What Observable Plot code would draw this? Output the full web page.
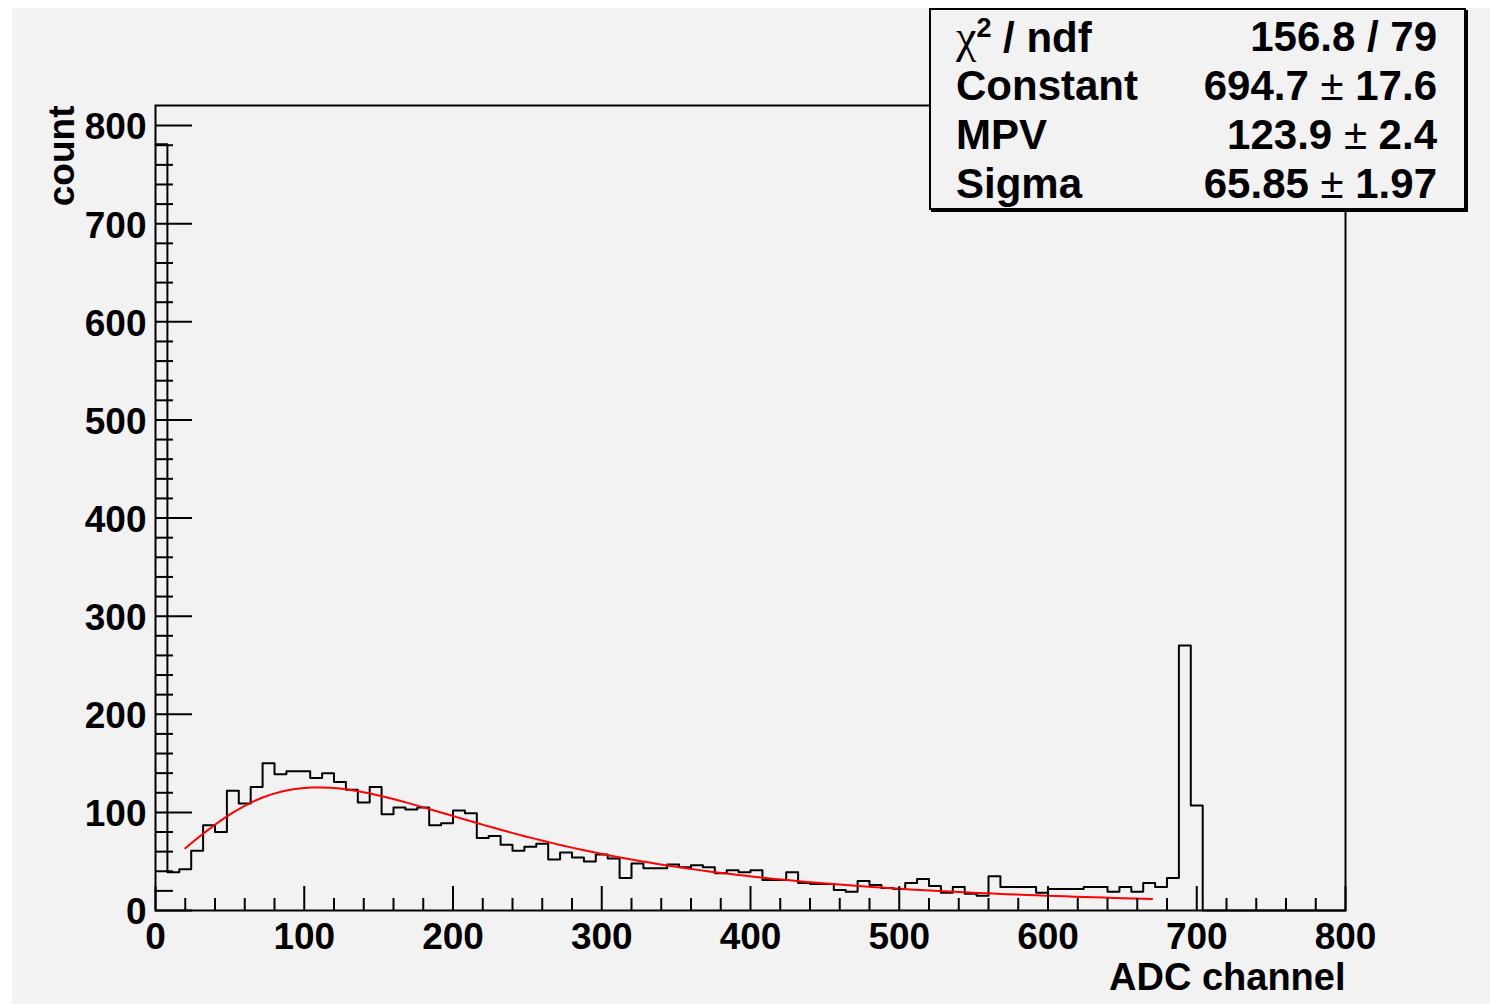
<!DOCTYPE html>
<html>
<head>
<meta charset="utf-8">
<script src="https://cdn.jsdelivr.net/npm/d3@7"></script>
<script src="https://cdn.jsdelivr.net/npm/@observablehq/plot@0.6"></script>
<style>
  html, body { margin: 0; padding: 0; background: #ffffff; }
  #pad { position: absolute; left: 12px; top: 8px; width: 1478px; height: 996px; background: #f2f2f2; }
  #chart { position: absolute; left: 0; top: 0; }
  #stats {
    position: absolute; left: 929px; top: 8px; width: 537px; height: 202px;
    box-sizing: border-box; border: 2px solid #000; box-shadow: 2px 2px 0 #000;
    background: #f2f2f2; padding: 2px 27px 0 25px;
    font-family: "Liberation Sans", Arial, sans-serif; font-weight: bold; font-size: 42px; color: #000;
  }
  #stats .row { display: flex; justify-content: space-between; height: 49px; line-height: 49px; white-space: nowrap; }
  #stats .chi { font-family: "Liberation Serif", serif; font-weight: normal; font-size: 46px; }
  #stats .sup { font-size: 27px; vertical-align: 0.55em; line-height: 0; }
  #stats .pm { font-weight: normal; }
</style>
</head>
<body>
<div id="pad"></div>
<div id="chart"></div>
<div id="stats"></div>
<script>
// ADC spectrum: 100 bins of width 8 over [0, 800]
const binWidth = 8;
const counts = [
  781, 39, 42, 61, 87, 80, 122, 109, 126, 150,
  139, 142, 142, 135, 140, 131, 123, 110, 126, 98,
  105, 103, 105, 87, 89, 102, 99, 74, 76, 67,
  61, 65, 68, 52, 59, 54, 50, 57, 53, 33,
  48, 43, 43, 47, 44, 46, 44, 38, 41, 39,
  41, 31, 31, 39, 28, 27, 27, 21, 19, 30,
  26, 23, 22, 28, 32, 25, 18, 24, 17, 15,
  35, 24, 24, 24, 18, 22, 22, 22, 24, 24,
  19, 24, 19, 28, 24, 33, 270, 107, 0, 0,
  0, 0, 0, 0, 0, 0, 0, 0, 0, 0
];

// Landau fit result
const fitNames  = ["Constant", "MPV", "Sigma"];
const fitValues = ["694.7", "123.9", "65.85"];
const fitErrors = ["17.6", "2.4", "1.97"];
const chi2 = "156.8", ndf = "79";
const fitRange = [20, 670];
const npx = 100;

// Axis ticks
const xTicks = [0, 100, 200, 300, 400, 500, 600, 700, 800];
const yTicks = [0, 100, 200, 300, 400, 500, 600, 700, 800];
const xDomain = [0, 800];
const yDomain = [0, 820.5];

// Landau density (CERNLIB DENLAN), unnormalised in sigma as in TMath::Landau
function denlan(v) {
  const p1 = [0.4259894875, -0.1249762550, 0.03984243700, -0.006298287635, 0.001511162253];
  const q1 = [1.0, -0.3388260629, 0.09594393323, -0.01608042283, 0.003778942063];
  const p2 = [0.1788541609, 0.1173957403, 0.01488850518, -0.001394989411, 0.0001283617211];
  const q2 = [1.0, 0.7428795082, 0.3153932961, 0.06694219548, 0.008790609714];
  const p3 = [0.1788544503, 0.09359161662, 0.006325387654, 0.00006611667319, -0.000002031049101];
  const q3 = [1.0, 0.6097809921, 0.2560616665, 0.04746722384, 0.006957301675];
  const p4 = [0.9874054407, 118.6723273, 849.2794360, -743.7792444, 427.0262186];
  const q4 = [1.0, 106.8615961, 337.6496214, 2016.712389, 1597.063511];
  const p5 = [1.003675074, 167.5702434, 4789.711289, 21217.86767, -22324.94910];
  const q5 = [1.0, 156.9424537, 3745.310488, 9834.698876, 66924.28357];
  const a1 = [0.04166666667, -0.01996527778, 0.02709538966];
  const poly = (c, t) => c[0] + (c[1] + (c[2] + (c[3] + c[4] * t) * t) * t) * t;
  let u;
  if (v < -5.5) {
    u = Math.exp(v + 1.0);
    if (u < 1e-10) return 0;
    return 0.3989422803 * (Math.exp(-1 / u) / Math.sqrt(u)) * (1 + (a1[0] + (a1[1] + a1[2] * u) * u) * u);
  } else if (v < -1) {
    u = Math.exp(-v - 1);
    return Math.exp(-u) * Math.sqrt(u) * poly(p1, v) / poly(q1, v);
  } else if (v < 1) {
    return poly(p2, v) / poly(q2, v);
  } else if (v < 5) {
    return poly(p3, v) / poly(q3, v);
  } else if (v < 12) {
    u = 1 / v;
    return u * u * poly(p4, u) / poly(q4, u);
  } else {
    u = 1 / v;
    return u * u * poly(p5, u) / poly(q5, u);
  }
}

// Histogram outline as a step path over bin low edges
const bins = counts.map((c, i) => ({edge: i * binWidth, count: c}));
bins.push({edge: counts.length * binWidth, count: counts[counts.length - 1]});

// Fit function sampled across its range
const [cst, mpv, sig] = fitValues.map(Number);
const fitCurve = d3.range(npx + 1).map(i => {
  const x = fitRange[0] + (fitRange[1] - fitRange[0]) * i / npx;
  return {x, y: cst * denlan((x - mpv) / sig)};
});

const minor = (ticks, step) => d3.range(ticks[0], ticks[ticks.length - 1] + 1e-9, step).filter(t => !ticks.includes(t));
const xMinor = minor(xTicks, 20);
const yMinor = minor(yTicks, 20);

const W = 1494, H = 1004;
const mL = 155, mR = 149, mT = 105, mB = 94;
const innerW = W - mL - mR, innerH = H - mT - mB;
const font = "Liberation Sans, Arial, Helvetica, sans-serif";

const chart = Plot.plot({
  width: W, height: H,
  marginLeft: mL, marginRight: mR, marginTop: mT, marginBottom: mB,
  style: {background: "transparent", fontFamily: font, overflow: "visible", color: "#000"},
  x: {domain: xDomain},
  y: {domain: yDomain},
  marks: [
    Plot.line(bins, {x: "edge", y: "count", curve: "step-after", stroke: "#000", strokeWidth: 2}),
    Plot.line(fitCurve, {x: "x", y: "y", stroke: "#ff0000", strokeWidth: 2}),
    Plot.tickX(xMinor, {x: d => d, insetTop: innerH - 12, stroke: "#000", strokeWidth: 2}),
    Plot.tickX(xTicks, {x: d => d, insetTop: innerH - 24, stroke: "#000", strokeWidth: 2}),
    Plot.tickY(yMinor, {y: d => d, insetRight: innerW - 18, stroke: "#000", strokeWidth: 2}),
    Plot.tickY(yTicks, {y: d => d, insetRight: innerW - 37, stroke: "#000", strokeWidth: 2}),
    Plot.axisX(xTicks, {tickSize: 0, tickPadding: 12, fontSize: 37, fontWeight: "bold", label: null, fill: "#000"}),
    Plot.axisY(yTicks, {tickSize: 0, tickPadding: 9, dy: 2, fontSize: 37, fontWeight: "bold", label: null, fill: "#000"}),
    Plot.frame({stroke: "#000", strokeWidth: 2}),
    Plot.text(["ADC channel"], {text: d => d, frameAnchor: "bottom-right", textAnchor: "end", lineAnchor: "middle",
      dy: 67, fontSize: 38, fontWeight: "bold", fill: "#000"}),
    Plot.text(["count"], {text: d => d, frameAnchor: "top-left", textAnchor: "end", lineAnchor: "middle",
      rotate: -90, dx: -93, fontSize: 37, fontWeight: "bold", fill: "#000"})
  ]
});
document.getElementById("chart").appendChild(chart);

// Fit statistics box
const stats = document.getElementById("stats");
const rows = [
  [`<span class="chi">\u03c7</span><span class="sup">2</span> / ndf`, `${chi2} / ${ndf}`]
].concat(fitNames.map((n, i) => [n, `${fitValues[i]}<span class="pm"> \u00b1 </span>${fitErrors[i]}`]));
stats.innerHTML = rows.map(([l, r]) => `<div class="row"><span>${l}</span><span>${r}</span></div>`).join("");
</script>
</body>
</html>
